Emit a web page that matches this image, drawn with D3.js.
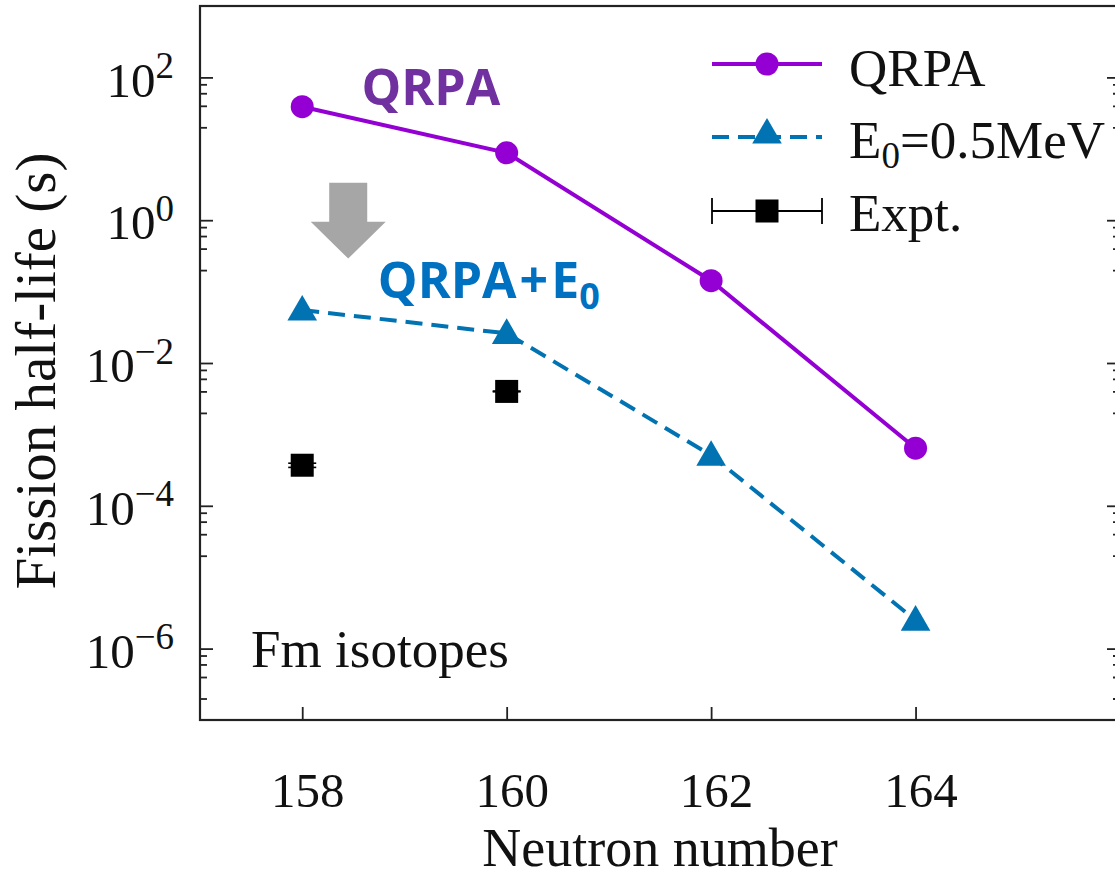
<!DOCTYPE html>
<html>
<head>
<meta charset="utf-8">
<script src="https://cdn.jsdelivr.net/npm/d3@7"></script>
<style>
  html, body { margin: 0; padding: 0; background: #fff; }
  svg { display: block; }
</style>
</head>
<body>
<svg id="chart" width="1115" height="879"></svg>
<script>
// ---- data ----
const neutrons = [158, 160, 162, 164];
const qrpa = [38.9, 8.8, 0.142, 6.4e-4];
const e0 = [0.0552, 0.026, 5.1e-4, 2.5e-6];
const exptN = [158, 160];
const expt = [3.7e-4, 4.0e-3];
const exptErr = [0.25e-4, 0.05e-3];
const xTicks = [158, 160, 162, 164];
const yMajor = [1e2, 1e0, 1e-2, 1e-4, 1e-6];
const yMajorExp = ["2", "0", "\u22122", "\u22124", "\u22126"];
const minorMant = [2, 4, 6, 8];
const minorDecades = [1, -1, -3, -5, -7];
const legendLabels = ["QRPA", "E0=0.5MeV", "Expt."];

// ---- layout ----
const svg = d3.select("#chart");
const L = 200, R = 1120, T = 6, B = 720;
const x = d3.scaleLinear().domain([157, 166]).range([L, R]);
const y = d3.scaleLog().domain([1e-7, 1e3]).range([B, T]);
const serif = "'Liberation Serif', 'Times New Roman', serif";
const sans = "'Open Sans', 'Noto Sans', sans-serif";
const axisColor = "#222";
const cQ = "#9400D3", cE = "#0173B2";

// minor ticks
const yMinor = [];
minorDecades.forEach(k => minorMant.forEach(m => yMinor.push(m * Math.pow(10, k))));

function styleAxis(g) {
  g.select(".domain").remove();
  g.selectAll("line").attr("stroke", axisColor).attr("stroke-width", 1.8);
}

// left major
const gl = svg.append("g").attr("transform", `translate(${L},0)`)
  .call(d3.axisLeft(y).tickValues(yMajor).tickSize(-13).tickPadding(26)
    .tickFormat(() => "10"));
styleAxis(gl);
gl.selectAll("text")
  .attr("font-family", serif).attr("font-size", 49).attr("fill", "#111")
  .attr("dy", "0.38em")
  .each(function(d, i) {
    const t = d3.select(this);
    t.text("10");
    t.append("tspan").attr("dy", -18.5).attr("font-size", 37).text(yMajorExp[i]);
  });
// left minor
const glm = svg.append("g").attr("transform", `translate(${L},0)`)
  .call(d3.axisLeft(y).tickValues(yMinor).tickSize(-7).tickFormat(""));
styleAxis(glm);
// right major/minor
const gr = svg.append("g").attr("transform", `translate(${R},0)`)
  .call(d3.axisRight(y).tickValues(yMajor).tickSize(-13).tickFormat(""));
styleAxis(gr);
const grm = svg.append("g").attr("transform", `translate(${R},0)`)
  .call(d3.axisRight(y).tickValues(yMinor).tickSize(-7).tickFormat(""));
styleAxis(grm);

// bottom
const gb = svg.append("g").attr("transform", `translate(0,${B})`)
  .call(d3.axisBottom(x).tickValues(xTicks).tickSize(-13).tickPadding(52)
    .tickFormat(d3.format("d")));
styleAxis(gb);
gb.selectAll("text").attr("font-family", serif).attr("font-size", 49)
  .attr("fill", "#111").attr("dx", 5);

// frame
svg.append("rect").attr("x", L).attr("y", T).attr("width", R - L).attr("height", B - T)
  .attr("fill", "none").attr("stroke", axisColor).attr("stroke-width", 2.2);

// axis titles
svg.append("text").attr("x", (L + R) / 2).attr("y", 866)
  .attr("text-anchor", "middle").attr("font-family", serif).attr("font-size", 54)
  .attr("fill", "#111").text("Neutron number");
svg.append("text")
  .attr("transform", `translate(55,${(T + B) / 2 + 8}) rotate(-90)`)
  .attr("text-anchor", "middle").attr("font-family", serif).attr("font-size", 57)
  .attr("fill", "#111").text("Fission half-life (s)");

// ---- series ----
const line = d3.line().x(d => x(d[0])).y(d => y(d[1]));
const qData = neutrons.map((n, i) => [n, qrpa[i]]);
const eData = neutrons.map((n, i) => [n, e0[i]]);

svg.append("path").datum(qData).attr("d", line)
  .attr("fill", "none").attr("stroke", cQ).attr("stroke-width", 4);
svg.selectAll(".qpt").data(qData).enter().append("circle")
  .attr("cx", d => x(d[0])).attr("cy", d => y(d[1])).attr("r", 11.5).attr("fill", cQ);

svg.append("path").datum(eData).attr("d", line)
  .attr("fill", "none").attr("stroke", cE).attr("stroke-width", 4)
  .attr("stroke-dasharray", "17,9");
const tri = d3.symbol().type(d3.symbolTriangle).size(380);
svg.selectAll(".ept").data(eData).enter().append("path")
  .attr("d", tri)
  .attr("transform", d => `translate(${x(d[0])},${y(d[1]) + 2})`)
  .attr("fill", cE);

// expt with error bars
const exData = exptN.map((n, i) => [n, expt[i], exptErr[i]]);
const eg = svg.selectAll(".ex").data(exData).enter().append("g");
eg.append("line").attr("x1", d => x(d[0])).attr("x2", d => x(d[0]))
  .attr("y1", d => y(d[1] + d[2])).attr("y2", d => y(d[1] - d[2]))
  .attr("stroke", "#000").attr("stroke-width", 2);
[1, -1].forEach(s => {
  eg.append("line").attr("x1", d => x(d[0]) - 14).attr("x2", d => x(d[0]) + 14)
    .attr("y1", d => y(d[1] + s * d[2])).attr("y2", d => y(d[1] + s * d[2]))
    .attr("stroke", "#000").attr("stroke-width", 1.6);
});
eg.append("rect").attr("x", d => x(d[0]) - 11.5).attr("y", d => y(d[1]) - 11.5)
  .attr("width", 23).attr("height", 23).attr("fill", "#000");

// ---- annotations ----
svg.append("text").attr("x", x(158.58)).attr("y", 105)
  .attr("font-family", sans).attr("font-weight", 700).attr("font-size", 50)
  .attr("fill", "#7030A0").text("QRPA");
const t2 = svg.append("text").attr("x", x(158.74)).attr("y", 298)
  .attr("font-family", sans).attr("font-weight", 700).attr("font-size", 50)
  .attr("fill", "#0070C0");
t2.append("tspan").text("QRPA");
t2.append("tspan").attr("dx", 3).text("+");
t2.append("tspan").attr("dx", 3).text("E");
t2.append("tspan").attr("font-size", 36).attr("dy", 11).text("0");

// gray arrow
const ax = x(158.45), aTop = y(3.35), aNeck = y(0.953), aTip = y(0.29);
svg.append("path")
  .attr("d", `M${ax - 19},${aTop} L${ax + 19},${aTop} L${ax + 19},${aNeck} L${ax + 37.5},${aNeck}
              L${ax},${aTip} L${ax - 37.5},${aNeck} L${ax - 19},${aNeck} Z`)
  .attr("fill", "#A6A6A6");

svg.append("text").attr("x", x(157.5)).attr("y", 667)
  .attr("font-family", serif).attr("font-size", 53).attr("fill", "#111")
  .text("Fm isotopes");

// ---- legend ----
const lg = svg.append("g");
const lx1 = 712, lx2 = 822, lmx = 767, ltx = 849;
const rows = [64, 137, 211];
// QRPA
lg.append("line").attr("x1", lx1).attr("x2", lx2).attr("y1", rows[0]).attr("y2", rows[0])
  .attr("stroke", cQ).attr("stroke-width", 4);
lg.append("circle").attr("cx", lmx).attr("cy", rows[0]).attr("r", 11.5).attr("fill", cQ);
// E0
lg.append("line").attr("x1", lx1).attr("x2", lx2).attr("y1", rows[1]).attr("y2", rows[1])
  .attr("stroke", cE).attr("stroke-width", 4).attr("stroke-dasharray", "17,9");
lg.append("path").attr("d", tri).attr("transform", `translate(${lmx},${rows[1] - 2})`).attr("fill", cE);
// Expt
lg.append("line").attr("x1", lx1).attr("x2", lx2).attr("y1", rows[2]).attr("y2", rows[2])
  .attr("stroke", "#000").attr("stroke-width", 1.8);
[lx1, lx2].forEach(xx => lg.append("line").attr("x1", xx).attr("x2", xx)
  .attr("y1", rows[2] - 13).attr("y2", rows[2] + 13).attr("stroke", "#000").attr("stroke-width", 1.8));
lg.append("rect").attr("x", lmx - 11.5).attr("y", rows[2] - 11.5).attr("width", 23).attr("height", 23).attr("fill", "#000");

const lt = lg.append("g").attr("font-family", serif).attr("font-size", 53).attr("fill", "#111");
lt.append("text").attr("x", ltx).attr("y", 86).text(legendLabels[0]);
const le = lt.append("text").attr("x", ltx).attr("y", 158);
le.append("tspan").text("E");
le.append("tspan").attr("font-size", 37).attr("dy", 10).text("0");
le.append("tspan").attr("dy", -10).text("=0.5MeV");
lt.append("text").attr("x", ltx).attr("y", 231).text(legendLabels[2]);
</script>
</body>
</html>
